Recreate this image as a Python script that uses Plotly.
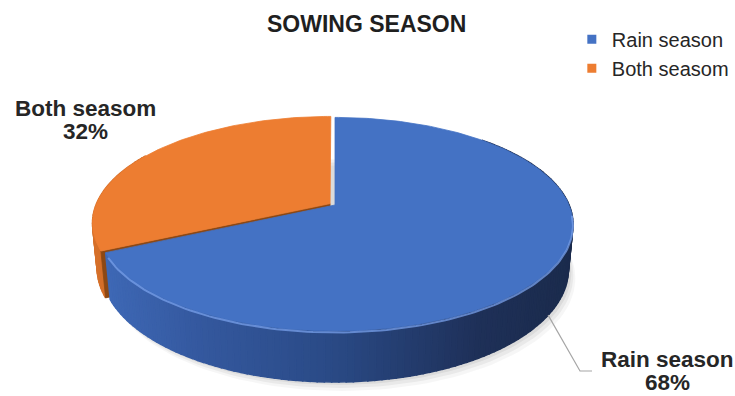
import numpy as np
import plotly.graph_objects as go

# ---- data ----
labels = ["Rain season", "Both seasom"]
values = [68, 32]
top_colors = ["#4472C4", "#ED7D31"]
chart_title = "SOWING SEASON"

# ---- canvas / projection settings ----
W, H = 735, 396
CX, CY = 335, 205          # screen position of the disc centre
FOCAL = 1168
DIST = 4.99
ALPHA = np.radians(26.2)   # elevation of the camera
DEPTH = 0.215              # thickness of the disc (radius = 1)
EXPLODE = [0.0, 0.025]
CA, SA = np.cos(ALPHA), np.sin(ALPHA)
FONT = "Liberation Sans, Arial, sans-serif"


def proj(x, y, z):
    """Perspective projection: x right, y up, z away from viewer."""
    w = DIST + z * CA - y * SA
    v = y * CA + z * SA
    return CX + FOCAL * x / w, CY - FOCAL * v / w


def rim(psi_deg, y, off):
    p = np.radians(psi_deg)
    return proj(np.sin(p) + off[0], y, np.cos(p) + off[1])


def lerp_rgb(stops, t):
    xs = [s[0] for s in stops]
    cols = np.array([s[1] for s in stops], dtype=float)
    c = [np.interp(t, xs, cols[:, k]) for k in range(3)]
    return "rgb(%d,%d,%d)" % tuple(int(round(v)) for v in c)


fig = go.Figure()


def poly(xs, ys, color, line_w=0.8):
    fig.add_trace(go.Scatter(
        x=list(xs) + [xs[0]], y=list(ys) + [ys[0]], mode="lines",
        fill="toself", fillcolor=color,
        line=dict(color=color, width=line_w),
        hoverinfo="skip", showlegend=False))


# slice angles, clockwise from 12 o'clock
total = float(sum(values))
bounds = np.concatenate([[0.0], np.cumsum(values) / total * 360.0])
slices = []
for i in range(len(values)):
    a0, a1 = bounds[i], bounds[i + 1]
    mid = np.radians((a0 + a1) / 2)
    off = (EXPLODE[i] * np.sin(mid), EXPLODE[i] * np.cos(mid))
    slices.append((a0, a1, off))

# soft shadow under the disc
for dx, dy, a in [(7, 9, 0.035), (5, 6, 0.05), (3, 3, 0.06)]:
    ang = np.linspace(0, 360, 181)
    pts = [rim(p, -DEPTH, (0, 0)) for p in ang]
    poly([p[0] + dx for p in pts], [p[1] + dy for p in pts],
         "rgba(0,0,0,%.3f)" % a, line_w=0)

wall_stops = {
    0: [(105, (62, 104, 181)), (200, (52, 88, 158)), (330, (42, 74, 134)),
        (480, (30, 48, 88)), (575, (27, 43, 76))],
    1: [(90, (214, 112, 42)), (200, (200, 100, 35)), (330, (190, 95, 30))],
}


def draw_wall(i):
    a0, a1, off = slices[i]
    lo, hi = max(a0, 45.0), min(a1, 300.0)
    if hi <= lo:
        return
    steps = np.linspace(lo, hi, int((hi - lo) / 1.5) + 2)
    for s0, s1 in zip(steps[:-1], steps[1:]):
        t0, t1 = rim(s0, 0, off), rim(s1, 0, off)
        b0, b1 = rim(s1, -DEPTH, off), rim(s0, -DEPTH, off)
        col = lerp_rgb(wall_stops[i], (t0[0] + t1[0]) / 2)
        poly([t0[0], t1[0], b0[0], b1[0]], [t0[1], t1[1], b0[1], b1[1]], col, line_w=1.6)


# orange side wall and its cut face, then the blue wall
draw_wall(1)
a0, a1, off = slices[1]
c_top = proj(off[0], 0, off[1])
c_bot = proj(off[0], -DEPTH, off[1])
r_top = rim(a0, 0, off)
r_bot = rim(a0, -DEPTH, off)
poly([c_top[0], r_top[0], r_bot[0], c_bot[0]],
     [c_top[1], r_top[1], r_bot[1], c_bot[1]], "rgb(140,72,20)")
draw_wall(0)

# top faces
for i, (a0, a1, off) in enumerate(slices):
    ang = np.linspace(a0, a1, max(int((a1 - a0) / 1.0), 8))
    pts = [proj(off[0], 0, off[1])] + [rim(p, 0, off) for p in ang]
    poly([p[0] for p in pts], [p[1] for p in pts], top_colors[i])

# bevel highlight along the front rim of the blue top
a0, a1, off = slices[0]
ang = np.linspace(95, a1 - 2, 120)
pts = [rim(p, 0, off) for p in ang]
fig.add_trace(go.Scatter(x=[p[0] for p in pts], y=[p[1] + 1.5 for p in pts],
                         mode="lines", line=dict(color="rgba(120,160,235,0.75)", width=2),
                         hoverinfo="skip", showlegend=False))

# legend entries
for name, col in zip(labels, top_colors):
    fig.add_trace(go.Scatter(x=[None], y=[None], mode="markers", name=name,
                             marker=dict(symbol="square", size=9, color=col)))

# leader line for the blue slice
lp = rim(123, -DEPTH, slices[0][2])
fig.add_trace(go.Scatter(x=[lp[0], 580, 592], y=[lp[1], 371, 371], mode="lines",
                         line=dict(color="#a6a6a6", width=1.2),
                         hoverinfo="skip", showlegend=False))

annotations = [dict(x=366, y=24, text="<b>%s</b>" % chart_title, showarrow=False,
                    font=dict(family=FONT, size=23, color="#1f1f1f"),
                    xanchor="center", yanchor="middle")]
label_pos = [(667, 359), (85, 108)]
for name, v, (lx, ly) in zip(labels, values, label_pos):
    pct = round(v / total * 100)
    annotations.append(dict(x=lx, y=ly, text="<b>%s</b>" % name, showarrow=False,
                            font=dict(family=FONT, size=22.5, color="#262626"),
                            xanchor="center", yanchor="middle"))
    annotations.append(dict(x=lx, y=ly + 23, text="<b>%d%%</b>" % pct, showarrow=False,
                            font=dict(family=FONT, size=22.5, color="#262626"),
                            xanchor="center", yanchor="middle"))

fig.update_layout(
    width=W, height=H, margin=dict(l=0, r=0, t=0, b=0),
    paper_bgcolor="white", plot_bgcolor="white",
    xaxis=dict(range=[0, W], visible=False, fixedrange=True),
    yaxis=dict(range=[H, 0], visible=False, fixedrange=True),
    annotations=annotations,
    showlegend=True,
    legend=dict(x=0.778, y=0.95, xanchor="left", yanchor="top",
                font=dict(family=FONT, size=20, color="#262626"),
                itemwidth=30, bgcolor="rgba(0,0,0,0)", tracegroupgap=0),
)

fig.write_html("out.html")
